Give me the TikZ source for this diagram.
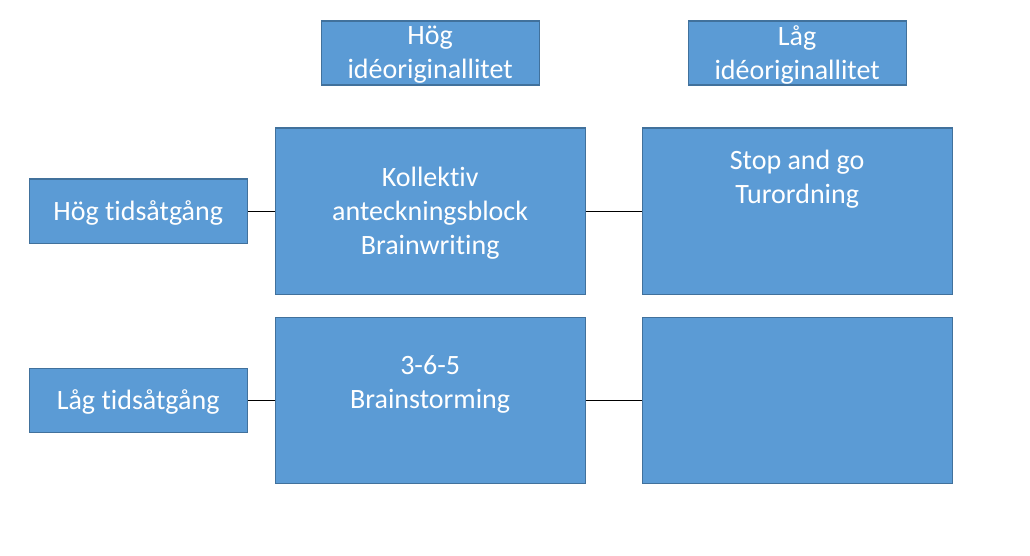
\documentclass[tikz,border=0pt]{standalone}
\usepackage{fontspec}
\setmainfont{Carlito}[RawFeature={-liga}]
\definecolor{boxfill}{HTML}{5B9BD5}
\definecolor{boxedge}{HTML}{41719C}
\newcommand{\padline}{\phantom{Tg}}
\begin{document}
\begin{tikzpicture}[x=1pt,y=-1pt,
  bx/.style={draw=boxedge, line width=1.3pt, fill=boxfill, text=white, align=center,
    font=\fontsize{28}{34}\selectfont, inner sep=0pt, anchor=north west, text depth=1.5pt},
  hdr/.style={bx, minimum width=218pt, minimum height=64pt},
  side/.style={bx, minimum width=218pt, minimum height=64pt},
  big/.style={bx, minimum width=310pt, minimum height=166pt},
  conn/.style={draw=black, line width=0.8pt}]
\useasboundingbox (0,0) rectangle (1030,556);
\node[hdr] (h1) at (320.5,20.5) {Hög\\idéoriginallitet};
\node[hdr] (h2) at (687.5,20.5) {Låg\\idéoriginallitet};
\node[side] (s1) at (28.5,178.5) {Hög tidsåtgång};
\node[side] (s2) at (28.5,367.5) {Låg tidsåtgång};
\node[big] (b1) at (274.5,127.5) {Kollektiv\\anteckningsblock\\Brainwriting};
\node[big] (b2) at (641.5,127.5) {Stop and go\\Turordning\\\padline\\\padline};
\node[big] (b3) at (274.5,316.5) {3-6-5\\Brainstorming\\\padline};
\node[big] (b4) at (641.5,316.5) {};
\draw[conn] (s1.east) -- (b1.west);
\draw[conn] (b1.east) -- (b2.west);
\draw[conn] (s2.east) -- (b3.west);
\draw[conn] (b3.east) -- (b4.west);
\end{tikzpicture}
\end{document}
